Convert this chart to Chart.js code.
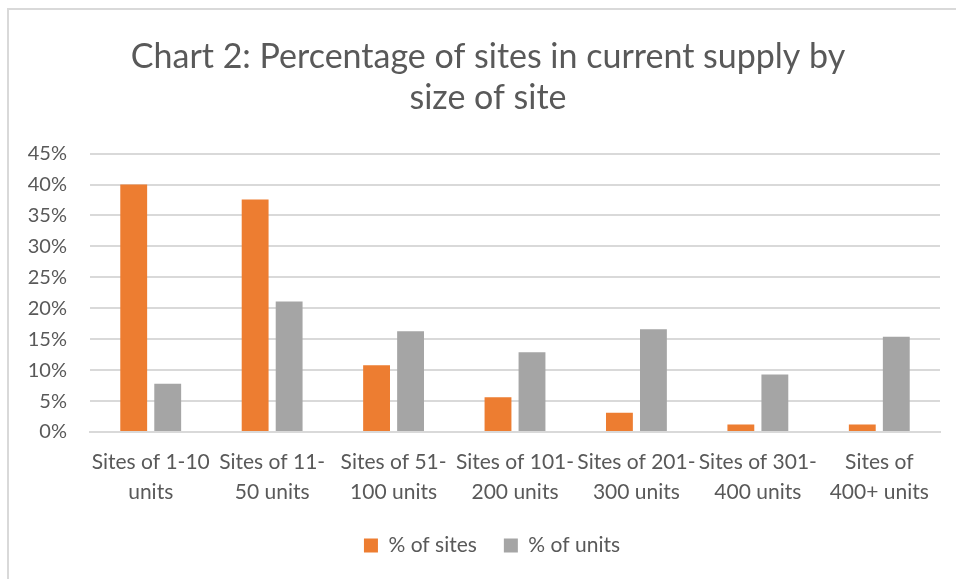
<!DOCTYPE html>
<html>
<head>
<meta charset="utf-8">
<script src="https://cdn.jsdelivr.net/npm/chart.js@4"></script>
<style>
  html, body { margin: 0; padding: 0; background: #fff; overflow: hidden; }
  #frame { position: absolute; left: 7px; top: 8px; width: 1000px; height: 1000px; border: 2px solid #d9d9d9; }
  #wrap { position: absolute; left: 0; top: 0; width: 956px; height: 579px; }
</style>
</head>
<body>
<div id="frame"></div>
<div id="wrap"><canvas id="chart"></canvas></div>
<script>
const categories = [
  ['Sites of 1-10', 'units'],
  ['Sites of 11-', '50 units'],
  ['Sites of 51-', '100 units'],
  ['Sites of 101-', '200 units'],
  ['Sites of 201-', '300 units'],
  ['Sites of 301-', '400 units'],
  ['Sites of', '400+ units']
]
const sitesPct = [40.0, 37.6, 10.8, 5.6, 3.1, 1.2, 1.2]
const unitsPct = [7.8, 21.1, 16.3, 12.9, 16.6, 9.3, 15.4]
const seriesNames = ['% of sites', '% of units']

const textColor = '#595959'
const fontFamily = 'Lato, "Open Sans", sans-serif'

const ctx = document.getElementById('chart').getContext('2d')

// title and legend in the original sit a little right of the canvas centre
const blockShift = {
  id: 'blockShift',
  afterLayout: (chart) => {
    chart.titleBlock.left += 8
    chart.titleBlock.right += 8
    chart.legend.left += 12
    chart.legend.right += 12
  }
}

new Chart(ctx, {
  type: 'bar',
  data: {
    labels: categories,
    datasets: [
      {
        label: seriesNames[0],
        data: sitesPct,
        backgroundColor: '#ED7D31',
        barPercentage: 0.79,
        categoryPercentage: 0.56
      },
      {
        label: seriesNames[1],
        data: unitsPct,
        backgroundColor: '#A5A5A5',
        barPercentage: 0.79,
        categoryPercentage: 0.56
      }
    ]
  },
  options: {
    responsive: true,
    maintainAspectRatio: false,
    animation: false,
    layout: {
      padding: { left: 20, right: 16, top: 37, bottom: 13 }
    },
    scales: {
      x: {
        afterFit: (scale) => { scale.height = 76 },
        grid: { display: false, drawTicks: false },
        border: { color: '#d9d9d9', width: 2 },
        ticks: {
          color: textColor,
          maxRotation: 0,
          autoSkip: false,
          padding: 16,
          font: { size: 21, family: fontFamily, lineHeight: 1.4 }
        }
      },
      y: {
        min: 0,
        max: 45,
        afterFit: (scale) => { scale.width = 70 },
        grid: { color: '#d9d9d9', lineWidth: 2, drawTicks: false },
        border: { display: false },
        ticks: {
          stepSize: 5,
          color: textColor,
          padding: 23,
          font: { size: 20, family: fontFamily },
          callback: (v) => v + '%'
        }
      }
    },
    plugins: {
      title: {
        display: true,
        text: ['Chart 2: Percentage of sites in current supply by', 'size of site'],
        color: textColor,
        font: { size: 34, family: fontFamily, weight: 'normal', lineHeight: 1.2 },
        padding: { top: 0, bottom: 35 }
      },
      legend: {
        position: 'bottom',
        labels: {
          color: textColor,
          boxWidth: 14,
          boxHeight: 14,
          padding: 27,
          font: { size: 21, family: fontFamily }
        }
      },
      tooltip: { enabled: false }
    }
  },
  plugins: [blockShift]
})
</script>
</body>
</html>
